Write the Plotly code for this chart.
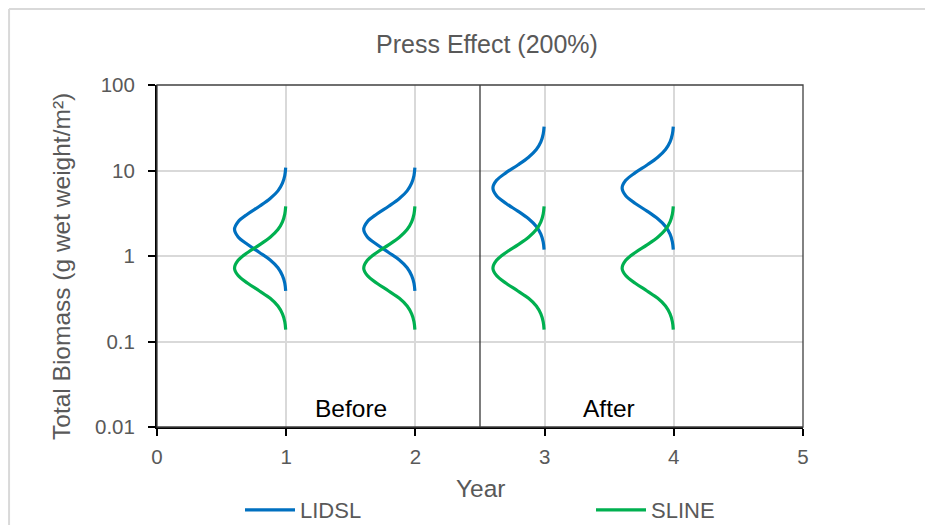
import plotly.graph_objects as go

# data
years_before = [1, 2]
years_after = [3, 4]
# sideways density: distance to the left of each year line
density_offset = [0.004, 0.011, 0.029, 0.064, 0.124, 0.207, 0.298, 0.372, 0.40,
                  0.372, 0.298, 0.207, 0.124, 0.064, 0.029, 0.011, 0.004]
lidsl_before = [10.8, 8.75, 7.11, 5.78, 4.70, 3.82, 3.10, 2.52, 2.05,
                1.67, 1.36, 1.10, 0.90, 0.73, 0.59, 0.48, 0.39]
lidsl_after = [32.7, 26.6, 21.6, 17.6, 14.3, 11.6, 9.44, 7.67, 6.24,
               5.07, 4.12, 3.35, 2.72, 2.21, 1.80, 1.46, 1.19]
sline_all = [3.80, 3.09, 2.51, 2.04, 1.66, 1.35, 1.10, 0.89, 0.72,
             0.59, 0.48, 0.39, 0.32, 0.26, 0.21, 0.17, 0.138]
split_year = 2.5
y_ticks = [0.01, 0.1, 1, 10, 100]
y_ticktext = ['0.01', '0.1', '1', '10', '100']
x_ticks = [0, 1, 2, 3, 4, 5]

# styles
color_lidsl = '#0070C0'
color_sline = '#00B050'
text_gray = '#595959'
grid_gray = '#D9D9D9'
font_family = 'Liberation Sans, Arial, sans-serif'
line_width = 3.2
label_size = 24.5
tick_size = 20.5

fig = go.Figure()


def add_curve(year, values, name, color, show, legend):
    fig.add_trace(go.Scatter(
        x=[year - o for o in density_offset], y=values, mode='lines',
        line=dict(color=color, width=line_width, shape='spline'),
        name=name, legendgroup=name, showlegend=show, legend=legend))


first = True
for yr in years_before:
    add_curve(yr, lidsl_before, 'LIDSL', color_lidsl, first, 'legend')
    first = False
for yr in years_after:
    add_curve(yr, lidsl_after, 'LIDSL', color_lidsl, False, 'legend')
first = True
for yr in years_before + years_after:
    add_curve(yr, sline_all, 'SLINE', color_sline, first, 'legend2')
    first = False

# before / after separator
fig.add_shape(type='line', xref='x', yref='paper', x0=split_year, x1=split_year,
              y0=0, y1=1, line=dict(color='#262626', width=1.2))
# thin frame top/right
fig.add_shape(type='rect', xref='paper', yref='paper', x0=0, x1=1, y0=0, y1=1,
              line=dict(color='#404040', width=1.3), layer='above')
# outer chart border (light gray)
fig.add_shape(type='line', xref='paper', yref='paper', x0=-0.229, x1=1.25,
              y0=1.222, y1=1.222, line=dict(color=grid_gray, width=2))
fig.add_shape(type='line', xref='paper', yref='paper', x0=-0.229, x1=-0.229,
              y0=-0.35, y1=1.222, line=dict(color=grid_gray, width=2))

fig.add_annotation(x=1.5, y=-1.78, xref='x', yref='y', text='Before', showarrow=False,
                   font=dict(size=label_size, color='black', family=font_family))
fig.add_annotation(x=3.5, y=-1.78, xref='x', yref='y', text='After', showarrow=False,
                   font=dict(size=label_size, color='black', family=font_family))
# axis titles
fig.add_annotation(x=0.5015, y=-0.181, xref='paper', yref='paper', text='Year',
                   showarrow=False, yanchor='middle',
                   font=dict(size=label_size, color=text_gray, family=font_family))
fig.add_annotation(x=-0.147, y=0.468, xref='paper', yref='paper',
                   text='Total Biomass (g wet weight/m²)', textangle=-90,
                   showarrow=False, xanchor='center', yanchor='middle',
                   font=dict(size=label_size, color=text_gray, family=font_family))

legend_style = dict(orientation='h', yref='container', y=1 - 502 / 525, yanchor='middle',
                    xref='container', xanchor='left', itemwidth=50,
                    font=dict(size=22, color=text_gray), bgcolor='rgba(0,0,0,0)')

fig.update_layout(
    width=933, height=525,
    margin=dict(l=149, r=138, t=77, b=106, autoexpand=False),
    paper_bgcolor='white', plot_bgcolor='white',
    font=dict(family=font_family, color=text_gray),
    title=dict(text='Press Effect (200%)', x=479 / 933, xref='container', xanchor='center',
               y=1 - 36 / 525, yref='container', yanchor='middle',
               font=dict(size=25, color=text_gray)),
    legend=dict(x=232 / 933, **legend_style),
    legend2=dict(x=583 / 933, **legend_style),
)

fig.update_xaxes(
    range=[0, 5], tickvals=x_ticks, showline=True, linecolor='black', linewidth=2,
    ticks='outside', ticklen=7, tickcolor='black', tickwidth=1.5,
    showgrid=True, gridcolor=grid_gray, gridwidth=1.5, zeroline=False,
    tickfont=dict(size=tick_size, color=text_gray), ticklabelstandoff=3,
)
fig.update_yaxes(
    type='log', range=[-2, 2], tickvals=y_ticks, ticktext=y_ticktext,
    showline=True, linecolor='black', linewidth=2,
    ticks='outside', ticklen=7, tickcolor='black', tickwidth=1.5,
    showgrid=True, gridcolor=grid_gray, gridwidth=1.5, zeroline=False,
    tickfont=dict(size=tick_size, color=text_gray), ticklabelstandoff=9,
)

fig.write_html('out.html')
